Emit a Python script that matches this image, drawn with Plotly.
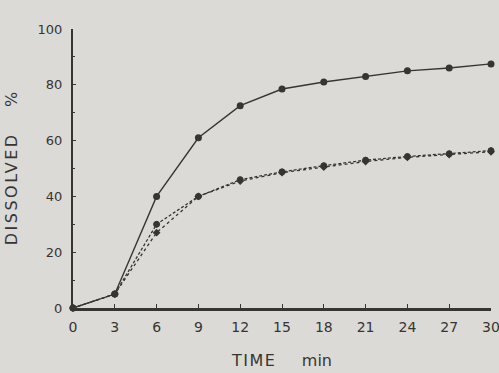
import plotly.graph_objects as go

time_min = [0, 3, 6, 9, 12, 15, 18, 21, 24, 27, 30]
series_a = [0, 5, 40, 61, 72.5, 78.5, 81, 83, 85, 86, 87.5]
series_b = [0, 5, 30, 40, 46, 48.8, 51, 53, 54.3, 55.3, 56.4]
series_c = [0, 5, 27, 40, 45.5, 48.5, 50.5, 52.5, 54, 55, 56]
x_ticks = [0, 3, 6, 9, 12, 15, 18, 21, 24, 27, 30]
y_ticks = [0, 20, 40, 60, 80, 100]

ink = "#363533"
bg = "#dcdad6"

fig = go.Figure()
fig.add_trace(go.Scatter(x=time_min, y=series_c, mode="lines+markers",
                         line=dict(color=ink, width=1.3, dash="dot"),
                         marker=dict(symbol="diamond", size=6, color=ink),
                         cliponaxis=False, showlegend=False))
fig.add_trace(go.Scatter(x=time_min, y=series_b, mode="lines+markers",
                         line=dict(color=ink, width=1.3, dash="3px,2px"),
                         marker=dict(symbol="circle-cross", size=6, color=ink,
                                     line=dict(color=ink, width=1)),
                         cliponaxis=False, showlegend=False))
fig.add_trace(go.Scatter(x=time_min, y=series_a, mode="lines+markers",
                         line=dict(color=ink, width=1.4),
                         marker=dict(symbol="circle", size=7, color=ink),
                         cliponaxis=False, showlegend=False))

fig.update_layout(
    width=499, height=373,
    margin=dict(l=73, r=8, t=29, b=65),
    paper_bgcolor=bg, plot_bgcolor=bg,
    font=dict(family="DejaVu Sans", color=ink, size=13),
    xaxis=dict(range=[0, 30], tickvals=x_ticks, ticktext=[str(v) for v in x_ticks],
               automargin=False,
               showgrid=False, zeroline=False, showline=True, linecolor=ink, linewidth=2.5,
               ticks="inside", ticklen=4, tickcolor=ink, tickwidth=1,
               tickfont=dict(size=14), ticklabelstandoff=4, ticklabeloverflow="allow",
               title=dict(text='<span style="letter-spacing:1.5px">TIME</span>&nbsp;&nbsp;&nbsp;&nbsp;&nbsp;min',
                          font=dict(size=16), standoff=22)),
    yaxis=dict(range=[0, 100], tickvals=y_ticks, ticktext=[str(v) for v in y_ticks],
               automargin=False,
               showgrid=False, zeroline=False, showline=True, linecolor=ink, linewidth=2,
               ticks="inside", ticklen=3, tickcolor=ink, tickwidth=1,
               tickfont=dict(size=13), ticklabelstandoff=6, ticklabeloverflow="allow",
               minor=dict(ticks="inside", ticklen=2, tickcolor=ink, dtick=10),
               title=dict(text='<span style="letter-spacing:2.5px">DISSOLVED</span>&nbsp;&nbsp;&nbsp;&nbsp;&nbsp;%',
                          font=dict(size=16), standoff=16)),
)

fig.write_html("out.html")
